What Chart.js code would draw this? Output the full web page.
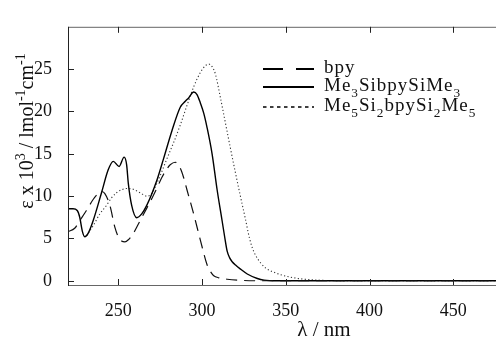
<!DOCTYPE html>
<html>
<head>
<meta charset="utf-8">
<script src="https://cdn.jsdelivr.net/npm/chart.js@4.4.0/dist/chart.umd.min.js"></script>
<style>
  html, body { margin: 0; padding: 0; background: #fff; overflow: hidden; }
  #wrap { width: 580px; height: 339px; position: relative; }
</style>
</head>
<body>
<div id="wrap"><canvas id="uvChart"></canvas></div>
<script>
// Absorption spectra (wavelength in nm, eps in 10^3 l/mol/cm)
const bpyNm = [220, 224, 227, 231, 235, 238, 240, 242, 245, 248, 250, 252, 254, 256, 259, 262, 266, 269, 273, 276, 279, 281, 284, 287, 289, 291, 295, 299, 303, 305, 307, 310, 315, 323, 335, 400, 500];
const bpyEps = [5.8, 6.2, 7.1, 8.3, 9.6, 10.3, 10.55, 10.3, 8.9, 6.3, 5.2, 4.7, 4.6, 4.85, 5.6, 6.7, 8.2, 9.3, 10.9, 12.2, 13.2, 13.7, 14.0, 13.3, 12.2, 10.75, 7.9, 4.8, 1.9, 1.1, 0.6, 0.35, 0.18, 0.05, 0, 0, 0];

const siNm = [220, 223, 225.5, 227, 228.5, 230, 232, 235, 240, 244, 247, 250.5, 253.5, 255, 256, 258, 261, 264, 267, 273, 277, 282, 287, 290, 292, 295, 297, 299, 301, 303, 306, 309, 312, 313.5, 315, 316.5, 318, 320, 323, 327, 333, 337, 345, 500];
const siEps = [8.5, 8.5, 8.3, 7.5, 5.9, 5.2, 5.6, 7.1, 10.4, 13.1, 14.1, 13.5, 14.6, 13.7, 11.5, 8.9, 7.45, 7.9, 8.9, 11.85, 14.4, 17.7, 20.5, 21.2, 21.6, 22.3, 22.0, 21.0, 19.8, 18.1, 15.0, 10.75, 7.06, 5.2, 3.5, 2.7, 2.25, 1.85, 1.37, 0.8, 0.27, 0.08, 0, 0];

const si2Nm = [231, 235, 239, 243, 246, 249, 252, 255, 259, 263, 267, 270, 273, 276, 279, 283, 287, 291, 295, 299, 302, 304, 306, 308, 311, 314, 317, 320, 323, 326, 328, 330, 332, 335, 338, 343, 348, 353, 360, 370, 380, 500];
const si2Eps = [5.3, 6.5, 7.9, 8.9, 9.8, 10.4, 10.75, 10.9, 10.8, 10.4, 10.0, 10.3, 11.5, 12.9, 14.4, 16.3, 18.4, 20.7, 22.9, 24.6, 25.4, 25.6, 25.3, 24.4, 21.6, 18.6, 15.6, 12.7, 9.9, 7.2, 5.3, 3.9, 3.0, 2.1, 1.5, 1.0, 0.65, 0.42, 0.2, 0.07, 0, 0];

// '_' marks a subscript, '^' a superscript
const seriesLabels = ['bpy', 'Me_3SibpySiMe_3', 'Me_5Si_2bpySi_2Me_5'];
const xTicks = [250, 300, 350, 400, 450, 500];
const yTicks = [0, 5, 10, 15, 20, 25];
const xTitle = 'λ / nm';
const yTitle = 'ε x 10^3 / lmol^{-1}cm^{-1}';

const serif = '"Liberation Serif", "Times New Roman", serif';

function toPoints(xs, ys) {
    return xs.map((x, i) => ({ x: x, y: ys[i] }));
}

// split a label into normal / sub / sup pieces
function richParts(str) {
    const parts = [];
    const re = /([_^])\{([^}]*)\}|([_^])(.)/g;
    let last = 0, m;
    while ((m = re.exec(str))) {
        if (m.index > last) parts.push({ t: str.slice(last, m.index), k: '' });
        parts.push({ t: m[2] !== undefined ? m[2] : m[4], k: m[1] || m[3] });
        last = re.lastIndex;
    }
    if (last < str.length) parts.push({ t: str.slice(last), k: '' });
    return parts;
}

function drawRich(ctx, str, x, y, size, measureOnly) {
    let cx = x;
    richParts(str).forEach(p => {
        const s = p.k ? size * 0.7 : size;
        ctx.font = s + 'px ' + serif;
        const dy = p.k === '_' ? size * 0.3 : p.k === '^' ? -size * 0.42 : 0;
        if (!measureOnly) ctx.fillText(p.t, cx, y + dy);
        cx += ctx.measureText(p.t).width;
    });
    return cx - x;
}

// box, inward ticks, axis titles and legend
const framePlugin = {
    id: 'frame',
    afterDraw(chart) {
        const { ctx, chartArea: a, scales: { x, y } } = chart;
        ctx.save();
        ctx.lineWidth = 1;

        ctx.strokeStyle = '#666';
        ctx.beginPath();
        ctx.moveTo(a.left, a.top + 0.5); ctx.lineTo(a.right, a.top + 0.5);
        ctx.moveTo(a.left, a.bottom + 0.5); ctx.lineTo(a.right, a.bottom + 0.5);
        ctx.stroke();

        ctx.strokeStyle = '#222';
        ctx.beginPath();
        ctx.moveTo(a.left + 0.5, a.top); ctx.lineTo(a.left + 0.5, a.bottom + 1);
        yTicks.forEach(v => {
            const py = Math.round(y.getPixelForValue(v)) + 0.5;
            ctx.moveTo(a.left, py); ctx.lineTo(a.left + 6, py);
        });
        xTicks.forEach(v => {
            const px = Math.round(x.getPixelForValue(v)) + 0.5;
            ctx.moveTo(px, a.bottom); ctx.lineTo(px, a.bottom - 6);
            ctx.moveTo(px, a.top); ctx.lineTo(px, a.top + 6);
        });
        ctx.stroke();

        ctx.fillStyle = '#111';
        ctx.textBaseline = 'alphabetic';
        ctx.textAlign = 'left';

        // x title
        const xw = drawRich(ctx, xTitle, 0, 0, 21, true);
        drawRich(ctx, xTitle, 324 - xw / 2, 336, 21);

        // y title, rotated
        ctx.save();
        ctx.translate(33, 131);
        ctx.rotate(-Math.PI / 2);
        const yw = drawRich(ctx, yTitle, 0, 0, 20, true);
        drawRich(ctx, yTitle, -yw / 2, 0, 20);
        ctx.restore();

        // legend inside the plot
        const rows = [69, 87, 107];
        const legendDash = [[20, 13], [], [3.5, 3.5]];
        const legendWidth = [2, 2, 1.5];
        chart.data.datasets.forEach((ds, i) => {
            ctx.strokeStyle = '#000';
            ctx.lineWidth = legendWidth[i];
            ctx.setLineDash(legendDash[i]);
            ctx.beginPath();
            ctx.moveTo(263, rows[i]); ctx.lineTo(314, rows[i]);
            ctx.stroke();
            ctx.setLineDash([]);
            ctx.letterSpacing = '1px';
            drawRich(ctx, seriesLabels[i], 324, rows[i] + 4, 19);
            ctx.letterSpacing = '0px';
        });
        ctx.restore();
    }
};

const ctx = document.getElementById('uvChart').getContext('2d');
const uvChart = new Chart(ctx, {
    type: 'line',
    data: {
        datasets: [
            {
                label: seriesLabels[0],
                data: toPoints(bpyNm, bpyEps),
                borderColor: '#111',
                borderWidth: 1.2,
                borderDash: [11, 7],
                pointRadius: 0,
                cubicInterpolationMode: 'monotone',
                fill: false
            },
            {
                label: seriesLabels[1],
                data: toPoints(siNm, siEps),
                borderColor: '#000',
                borderWidth: 1.4,
                pointRadius: 0,
                cubicInterpolationMode: 'monotone',
                fill: false
            },
            {
                label: seriesLabels[2],
                data: toPoints(si2Nm, si2Eps),
                borderColor: '#333',
                borderWidth: 1.1,
                borderDash: [1.2, 2.3],
                pointRadius: 0,
                cubicInterpolationMode: 'monotone',
                fill: false
            }
        ]
    },
    options: {
        responsive: true,
        maintainAspectRatio: false,
        animation: false,
        layout: { padding: { top: 9, right: 1, left: 0, bottom: 0 } },
        plugins: {
            legend: { display: false },
            tooltip: { enabled: false }
        },
        scales: {
            x: {
                type: 'linear',
                min: 220,
                max: 525,
                afterBuildTicks: scale => { scale.ticks = xTicks.map(v => ({ value: v })); },
                afterFit: scale => { scale.height = 54; },
                grid: { display: false, drawTicks: false },
                border: { display: false },
                ticks: {
                    font: { family: serif, size: 18 },
                    color: '#111',
                    padding: 15,
                    maxRotation: 0
                }
            },
            y: {
                type: 'linear',
                min: -0.5,
                max: 30,
                afterBuildTicks: scale => { scale.ticks = yTicks.map(v => ({ value: v })); },
                afterFit: scale => { scale.width = 68; },
                grid: { display: false, drawTicks: false },
                border: { display: false },
                ticks: {
                    font: { family: serif, size: 18 },
                    color: '#111',
                    padding: 16
                }
            }
        }
    },
    plugins: [framePlugin]
});
</script>
</body>
</html>
